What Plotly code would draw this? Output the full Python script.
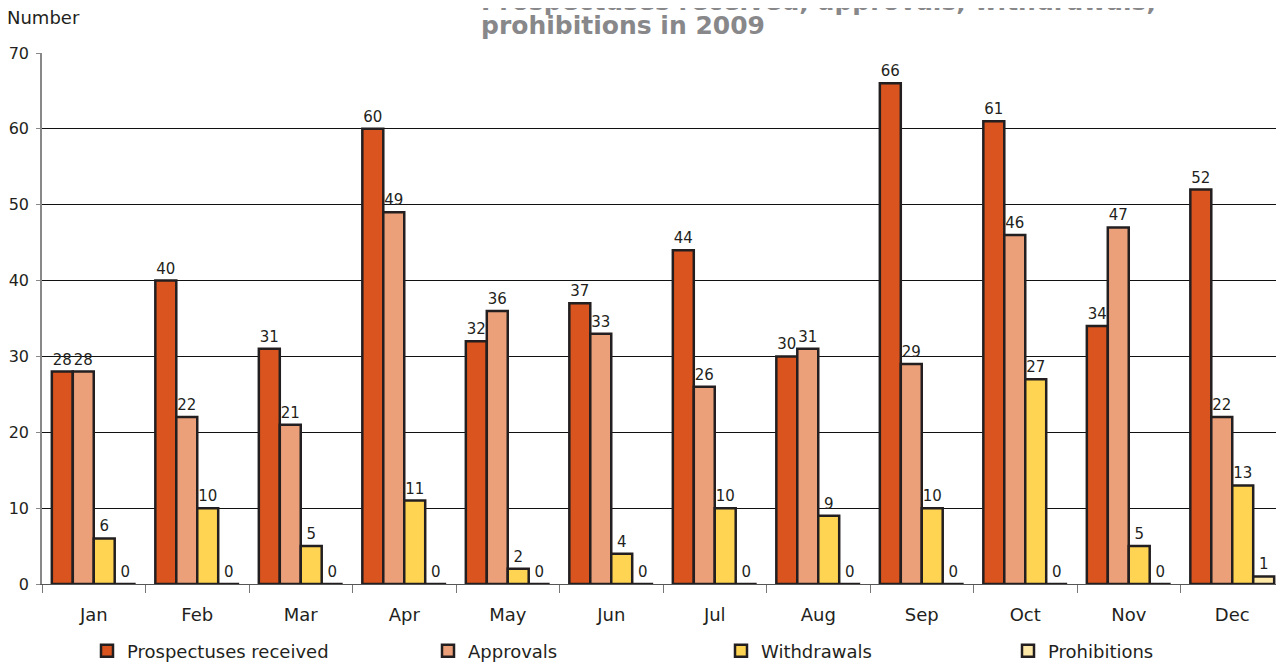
import plotly.graph_objects as go

months = ["Jan", "Feb", "Mar", "Apr", "May", "Jun", "Jul", "Aug", "Sep", "Oct", "Nov", "Dec"]
prospectuses = [28, 40, 31, 60, 32, 37, 44, 30, 66, 61, 34, 52]
approvals = [28, 22, 21, 49, 36, 33, 26, 31, 29, 46, 47, 22]
withdrawals = [6, 10, 5, 11, 2, 4, 10, 9, 10, 27, 5, 13]
prohibitions = [0, 0, 0, 0, 0, 0, 0, 0, 0, 0, 0, 1]

series = [
    ("Prospectuses received", prospectuses, "#d9541e"),
    ("Approvals", approvals, "#eba07a"),
    ("Withdrawals", withdrawals, "#ffd452"),
    ("Prohibitions", prohibitions, "#ffe9a8"),
]

font = "DejaVu Sans"
ink = "#231f20"
W, H = 1284, 663
OFF = 8  # the page body margin shifts the figure by 8px
L, T, R, B = 42 - OFF, 53 - OFF, OFF, H - (584 - OFF)
PW, PH = W - L - R, H - T - B


def px(sx):
    # screen x -> paper x
    return (sx - OFF - L) / PW


def py(sy):
    # screen y -> paper y
    return (H - B - (sy - OFF)) / PH


fig = go.Figure()
for i, (name, vals, col) in enumerate(series):
    fig.add_trace(go.Bar(
        name=name, x=months, y=vals,
        marker=dict(color=col, line=dict(color=ink, width=2.5)),
        text=vals, textposition="outside", cliponaxis=False,
        textfont=dict(family=font, size=15, color=ink),
        legend="legend" if i == 0 else f"legend{i + 1}",
    ))

# one legend box per series so each entry sits where the original puts it
legend_px = [79, 420, 713, 1000]
legend_style = dict(
    orientation="h", xref="container", yref="container",
    y=(H - (651 - OFF)) / H, xanchor="left", yanchor="middle",
    itemwidth=30, bgcolor="rgba(0,0,0,0)",
    font=dict(family=font, size=18, color=ink),
)
legends = {}
for i, lx in enumerate(legend_px):
    key = "legend" if i == 0 else f"legend{i + 1}"
    legends[key] = dict(legend_style, x=lx / W)

title_font = dict(family=font, size=25, color="#88888a")

fig.update_layout(
    width=W, height=H,
    margin=dict(l=L, r=R, t=T, b=B, autoexpand=False),
    paper_bgcolor="white", plot_bgcolor="white",
    barmode="group", bargap=0.19, bargroupgap=0,
    font=dict(family=font, size=16, color=ink),
    showlegend=True,
    xaxis=dict(
        automargin=False,
        showline=True, linecolor="#555", linewidth=1,
        ticks="outside", tickson="boundaries", ticklen=8, tickcolor="#777",
        ticklabelstandoff=14,
        tickfont=dict(family=font, size=18, color=ink),
        showgrid=False,
    ),
    yaxis=dict(
        automargin=False,
        range=[0, 70], dtick=10, showgrid=True, gridcolor="#111", gridwidth=1,
        showline=True, linecolor="#888", linewidth=1.5,
        ticks="outside", ticklen=4, tickcolor="#888",
        ticklabelstandoff=4,
        tickfont=dict(family=font, size=16, color=ink),
        zeroline=True, zerolinecolor="#111", zerolinewidth=1,
    ),
    annotations=[
        dict(text="Number", xref="paper", yref="paper", x=px(5), y=py(18),
             xanchor="left", yanchor="middle", showarrow=False,
             font=dict(family=font, size=18, color=ink)),
        dict(text="<b>Prospectuses received, approvals, withdrawals,</b>",
             xref="paper", yref="paper", x=px(479), y=py(17.5),
             xanchor="left", yanchor="bottom", align="left", showarrow=False,
             font=title_font),
        dict(text="<b>prohibitions in 2009</b>",
             xref="paper", yref="paper", x=px(479), y=py(42),
             xanchor="left", yanchor="bottom", align="left", showarrow=False,
             font=title_font),
    ],
    **legends,
)

fig.write_html("out.html")
